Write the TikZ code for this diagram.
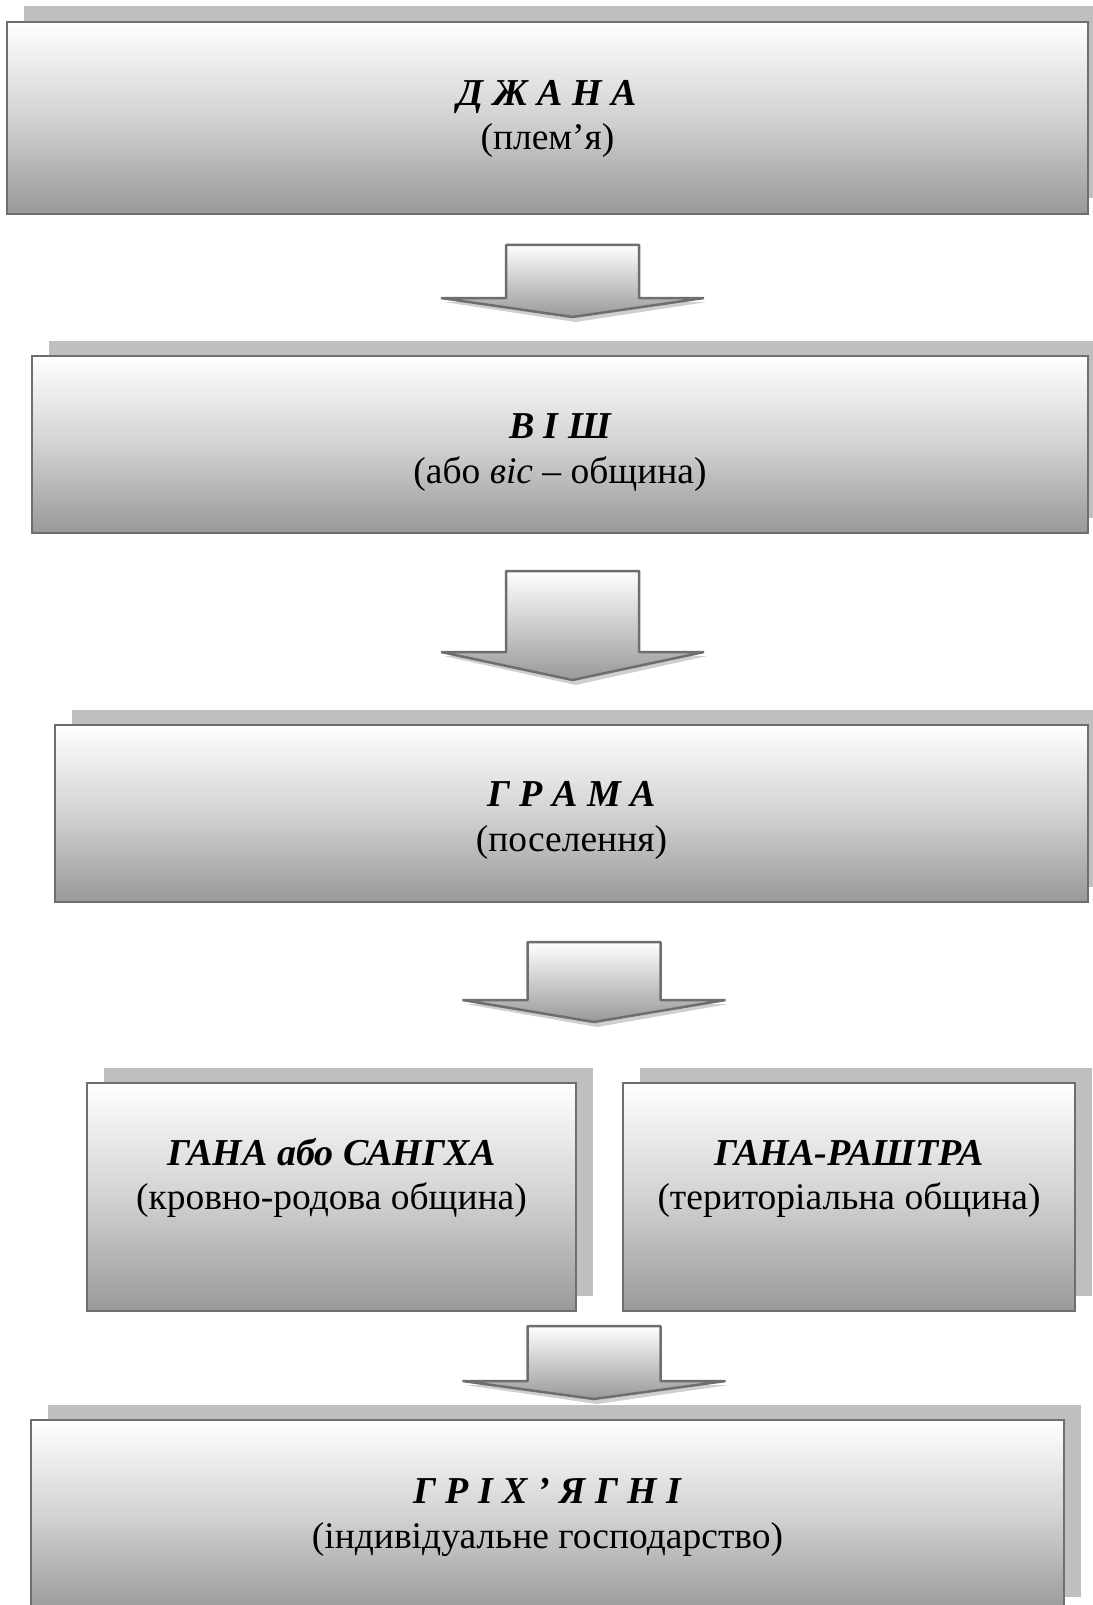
\documentclass[tikz,border=0pt]{standalone}
\usepackage{fontspec}
\setmainfont{Liberation Serif}
\usetikzlibrary{shadows}
\definecolor{bordc}{HTML}{6E6E6E}
\definecolor{shadc}{HTML}{BFBFBF}
\definecolor{boxbot}{HTML}{999999}
\definecolor{boxmid}{HTML}{D2D2D2}
\definecolor{arrshad}{HTML}{CFCFCF}
\tikzset{
  box/.style={rectangle, inner sep=0pt, draw=bordc, line width=2pt,
    top color=white, bottom color=boxbot, middle color=boxmid,
    drop shadow={shadow xshift=17pt, shadow yshift=15.5pt, fill=shadc, opacity=1}},
  ttl/.style={anchor=base, inner sep=0pt, font=\fontsize{38}{45}\selectfont\bfseries\itshape},
  sub/.style={anchor=base, inner sep=0pt, font=\fontsize{37.5}{45}\selectfont},
  arrbody/.style={draw=bordc, line width=2.5pt, line join=bevel, top color=white, bottom color=boxbot},
}
\newcommand\blkarrow[4]{%
  \fill[arrshad] ({#1-66.5+3},{#3+4}) -- ({#1-131.5+3},{#3+4}) -- ({#1+3},{#4+5}) -- ({#1+131.5+3},{#3+4}) -- ({#1+66.5+3},{#3+4}) -- cycle;
  \path[arrbody] ({#1-66.5},#2) -- ({#1+66.5},#2) -- ({#1+66.5},#3) -- ({#1+131.5},#3) -- (#1,#4) -- ({#1-131.5},#3) -- ({#1-66.5},#3) -- cycle;
}
\begin{document}
\begin{tikzpicture}[x=1pt,y=-1pt]
\useasboundingbox (0,0) rectangle (1092,1605);
\fill[white] (0,0) rectangle (1092,1605);
% boxes
\node[box, minimum width=1081pt, minimum height=192pt] (b1) at (547.5,118) {};
\node[box, minimum width=1056pt, minimum height=177pt] (b2) at (560,444.5) {};
\node[box, minimum width=1033pt, minimum height=177pt] (b3) at (571.5,813.5) {};
\node[box, minimum width=489pt, minimum height=228pt] (b4a) at (331.5,1197) {};
\node[box, minimum width=452pt, minimum height=228pt] (b4b) at (849,1197) {};
\node[box, minimum width=1033pt, minimum height=192pt] (b5) at (547.5,1516) {};
% texts
\node[ttl] (t1) at (547.5,106) {Д Ж А Н А};
\node[sub] (s1) at (547.5,150) {(плем’я)};
\node[ttl] (t2) at (560,438) {В І Ш};
\node[sub] (s2) at (560,483) {(або \textit{віс} – община)};
\node[ttl] (t3) at (571.5,806) {Г Р А М А};
\node[sub] (s3) at (571.5,851) {(поселення)};
\node[ttl] (t4a) at (331.5,1165) {ГАНА або САНГХА};
\node[sub] (s4a) at (331.5,1209) {(кровно-родова община)};
\node[ttl] (t4b) at (849,1165) {ГАНА-РАШТРА};
\node[sub] (s4b) at (849,1209) {(територіальна община)};
\node[ttl] (t5) at (547.5,1503) {Г Р І Х ’ Я Г Н І};
\node[sub] (s5) at (547.5,1548) {(індивідуальне господарство)};
% block arrows
\blkarrow{572.5}{245}{298}{317}
\blkarrow{572.5}{571}{652}{680}
\blkarrow{594}{942}{1000}{1022}
\blkarrow{594}{1326}{1381}{1399}
\end{tikzpicture}
\end{document}
